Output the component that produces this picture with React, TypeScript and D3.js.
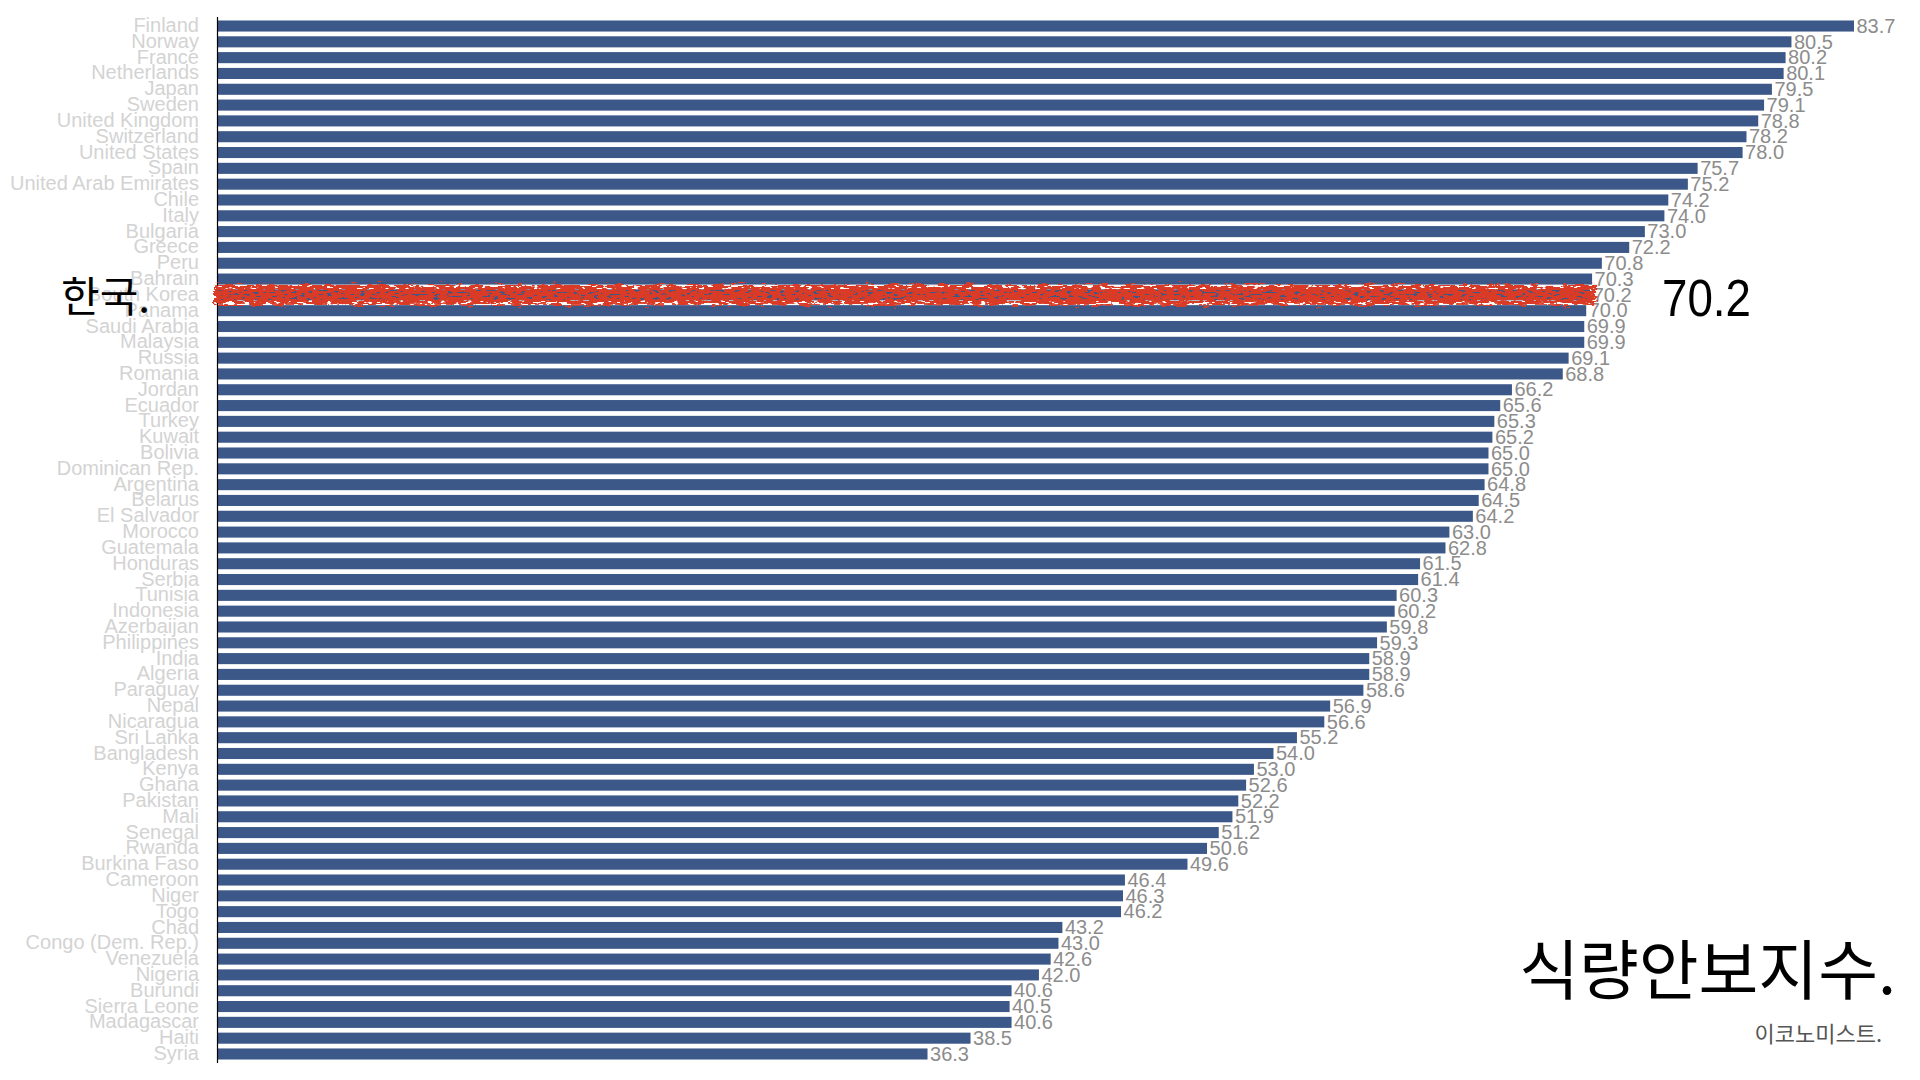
import React from "react";
import * as d3 from "d3";

const countries = ["Finland","Norway","France","Netherlands","Japan","Sweden","United Kingdom","Switzerland","United States","Spain","United Arab Emirates","Chile","Italy","Bulgaria","Greece","Peru","Bahrain","South Korea","Panama","Saudi Arabia","Malaysia","Russia","Romania","Jordan","Ecuador","Turkey","Kuwait","Bolivia","Dominican Rep.","Argentina","Belarus","El Salvador","Morocco","Guatemala","Honduras","Serbia","Tunisia","Indonesia","Azerbaijan","Philippines","India","Algeria","Paraguay","Nepal","Nicaragua","Sri Lanka","Bangladesh","Kenya","Ghana","Pakistan","Mali","Senegal","Rwanda","Burkina Faso","Cameroon","Niger","Togo","Chad","Congo (Dem. Rep.)","Venezuela","Nigeria","Burundi","Sierra Leone","Madagascar","Haiti","Syria"];

const values = [83.7,80.5,80.2,80.1,79.5,79.1,78.8,78.2,78.0,75.7,75.2,74.2,74.0,73.0,72.2,70.8,70.3,70.2,70.0,69.9,69.9,69.1,68.8,66.2,65.6,65.3,65.2,65.0,65.0,64.8,64.5,64.2,63.0,62.8,61.5,61.4,60.3,60.2,59.8,59.3,58.9,58.9,58.6,56.9,56.6,55.2,54.0,53.0,52.6,52.2,51.9,51.2,50.6,49.6,46.4,46.3,46.2,43.2,43.0,42.6,42.0,40.6,40.5,40.6,38.5,36.3];

const highlight = "South Korea";
const highlightLabel = "한국.";
const title = "식량안보지수.";
const source = "이코노미스트.";

export default function App() {
  const W = 1920, H = 1080;
  const x0 = 218;
  const x = d3.scaleLinear().domain([0, 83.7]).range([x0, 1854]);
  const y = d3.scaleBand<string>().domain(countries).range([17, 1063]).paddingInner(0.3).paddingOuter(0.22);
  const bw = y.bandwidth();
  const hiIdx = countries.indexOf(highlight);
  const hiVal = values[hiIdx];
  const hiY = (y(highlight) as number) + bw / 2;
  const latin = "'Liberation Sans', Arial, Helvetica, sans-serif";
  const kr = "'Noto Sans CJK KR', sans-serif";

  return (
    <svg width={W} height={H} style={{ position: "absolute", left: 0, top: 0, background: "#fff" }}>
      <defs>
        <filter id="brush" x="-2%" y="-100%" width="104%" height="300%">
          <feTurbulence type="fractalNoise" baseFrequency="0.08 0.4" numOctaves="4" seed="7" result="noise" />
          <feDisplacementMap in="SourceGraphic" in2="noise" scale="11" xChannelSelector="R" yChannelSelector="G" result="disp" />
          <feTurbulence type="fractalNoise" baseFrequency="0.15 0.5" numOctaves="2" seed="3" result="holes" />
          <feColorMatrix in="holes" type="matrix" values="0 0 0 0 0  0 0 0 0 0  0 0 0 0 0  0 0 0 -14 9.5" result="mask" />
          <feComposite in="disp" in2="mask" operator="in" />
        </filter>
      </defs>
      {countries.map((c, i) => (
        <rect key={c} x={x0} y={y(c)} width={x(values[i]) - x0} height={bw} fill="#3b5888" />
      ))}
      {countries.map((c, i) => (
        <text key={"c" + c} x={199} y={(y(c) as number) + bw + 0.5} textAnchor="end" fontFamily={latin} fontSize={20} fill="#d3d3d3">{c}</text>
      ))}
      {countries.map((c, i) => (
        <text key={"v" + c} x={x(values[i]) + 2.5} y={(y(c) as number) + bw + 1.2} fontFamily={latin} fontSize={20} fill="#8c8c8c">{values[i].toFixed(1)}</text>
      ))}
      <line x1={217.5} x2={217.5} y1={17} y2={1063} stroke="#000" strokeWidth={1.2} />
      <g filter="url(#brush)">
        <rect x={x0 - 4} y={hiY - 10} width={x(hiVal) - x0 + 10} height={20} fill="#d93b27" />
      </g>
      <text x={61} y={312} fontFamily={kr} fontSize={42} fill="#000">{highlightLabel}</text>
      <text x={1662} y={316} fontFamily={latin} fontSize={51} fill="#000" textLength={89} lengthAdjust="spacingAndGlyphs">{hiVal.toFixed(1)}</text>
      <text x={1896} y={994} textAnchor="end" fontFamily={kr} fontSize={65} fill="#000">{title}</text>
      <text x={1882} y={1042} textAnchor="end" fontFamily={kr} fontSize={22} fill="#555">{source}</text>
    </svg>
  );
}
